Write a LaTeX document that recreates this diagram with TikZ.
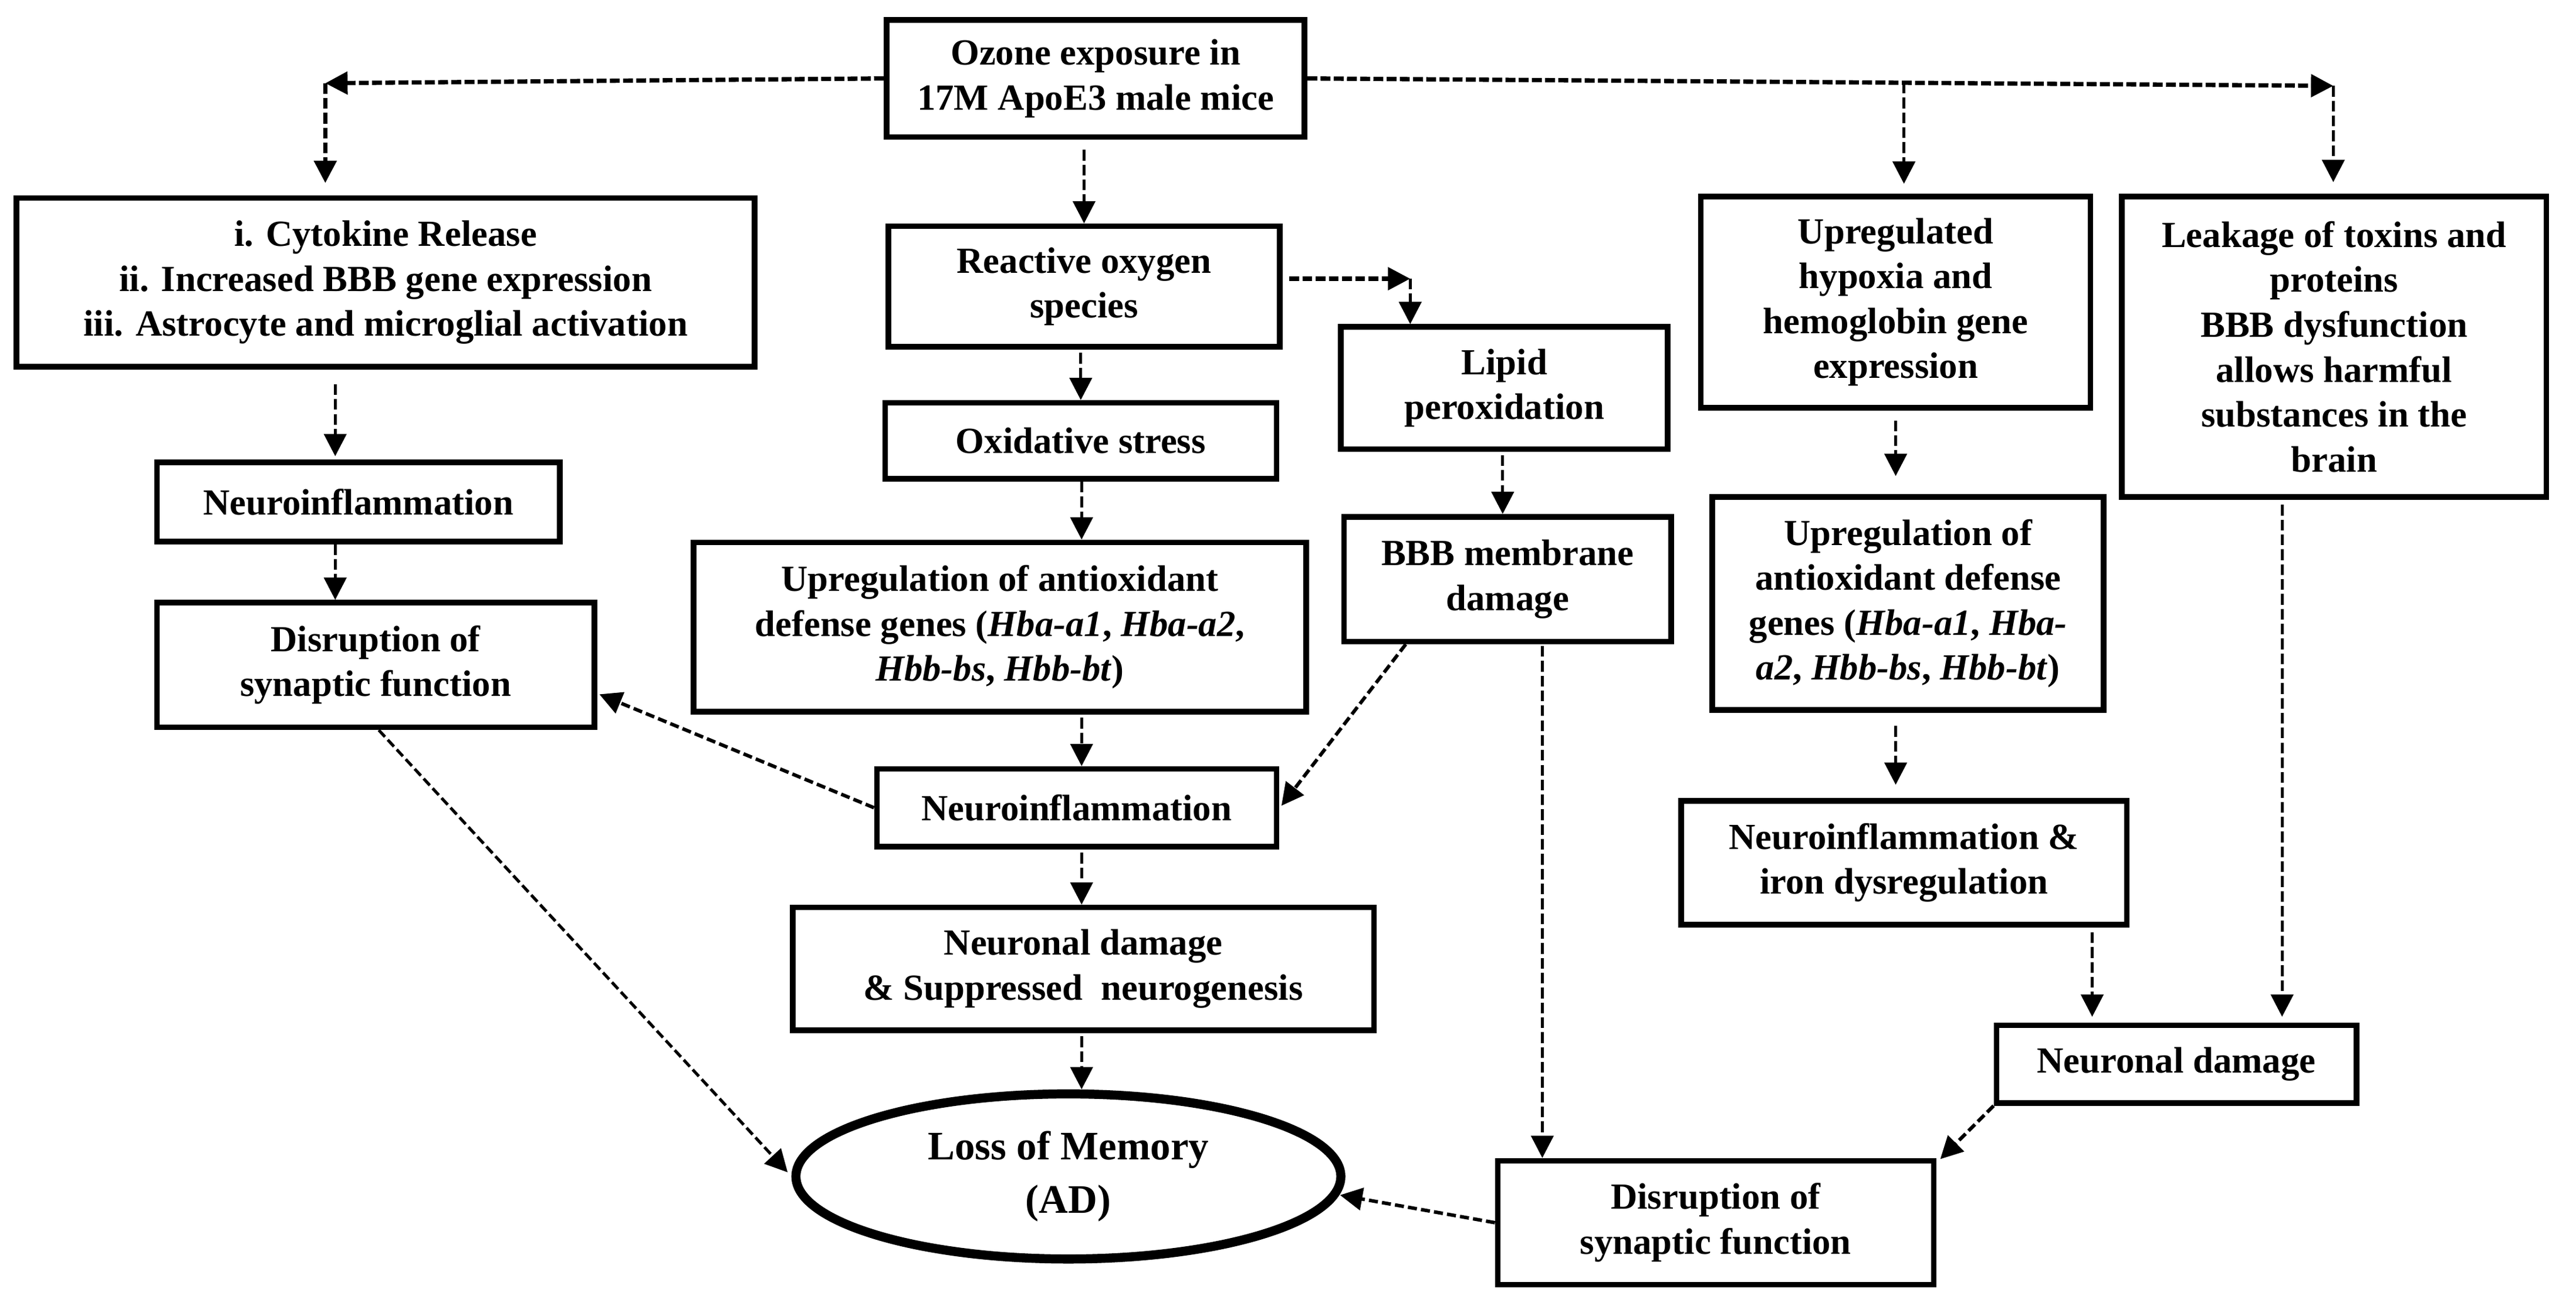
\documentclass[tikz,border=0pt]{standalone}
\usepackage{fontspec}
\setmainfont{Liberation Serif}
\usetikzlibrary{arrows.meta,shapes.geometric}
\newcommand{\boxfont}{\fontsize{22.3pt}{27.2pt}\selectfont\bfseries}
\newcommand{\ellfont}{\fontsize{24.5pt}{32pt}\selectfont\bfseries}
\begin{document}
\begin{tikzpicture}[x=1pt,y=-1pt,
  box/.style={draw, line width=3.4pt, rectangle, inner sep=0pt, align=center, font=\boxfont},
  tipA/.style={-{Triangle[length=13.5pt,width=13.5pt]}},
  vl/.style={tipA, line width=1.8pt, dash pattern=on 6.5pt off 2.5pt},
  hl/.style={tipA, line width=2.6pt, dash pattern=on 6pt off 2pt},
  dl/.style={tipA, line width=2.1pt, dash pattern=on 5.5pt off 2.5pt}]
\useasboundingbox (0,0) rectangle (1560,792.5);

% boxes
\node[box, minimum width=253pt, minimum height=71pt] (oz) at (663.5,47.5) {Ozone exposure in\\17M ApoE3 male mice};
\node[box, minimum width=447pt, minimum height=102pt] (cyt) at (233.5,171) {i. Cytokine Release\\ii. Increased BBB gene expression\\iii. Astrocyte and microglial activation};
\node[box, minimum width=237pt, minimum height=73pt] (ros) at (656.5,173.5) {Reactive oxygen\\species};
\node[box, minimum width=198pt, minimum height=74pt] (lip) at (911,235) {Lipid\\peroxidation};
\node[box, minimum width=236pt, minimum height=128pt] (hyp) at (1148,183) {Upregulated\\hypoxia and\\hemoglobin gene\\expression};
\node[box, minimum width=257pt, minimum height=182pt] (leak) at (1413.5,210) {Leakage of toxins and\\proteins\\BBB dysfunction\\allows harmful\\substances in the\\brain};
\node[box, minimum width=244pt, minimum height=48pt] (ni1) at (217,304) {Neuroinflammation};
\node[box, minimum width=237pt, minimum height=46pt] (ox) at (654.5,267) {Oxidative stress};
\node[box, minimum width=371pt, minimum height=102.5pt] (ua1) at (605.5,379.75) {Upregulation of antioxidant\\defense genes (\textit{Hba-a1}, \textit{Hba-a2},\\\textit{Hbb-bs}, \textit{Hbb-bt})};
\node[box, minimum width=198pt, minimum height=75.5pt] (bbb) at (913,350.75) {BBB membrane\\damage};
\node[box, minimum width=237pt, minimum height=129pt] (ua2) at (1155.5,365.5) {Upregulation of\\antioxidant defense\\genes (\textit{Hba-a1}, \textit{Hba-}\\\textit{a2}, \textit{Hbb-bs}, \textit{Hbb-bt})};
\node[box, minimum width=265pt, minimum height=75.5pt] (dis1) at (227.5,402.75) {Disruption of\\synaptic function};
\node[box, minimum width=242pt, minimum height=47pt] (ni2) at (652,489.2) {Neuroinflammation};
\node[box, minimum width=270pt, minimum height=75pt] (iron) at (1153,522.5) {Neuroinflammation \&\\iron dysregulation};
\node[box, minimum width=352pt, minimum height=74.4pt] (nd1) at (656,586.8) {Neuronal damage\\\& Suppressed\ \ neurogenesis};
\node[box, minimum width=218pt, minimum height=47pt] (nd2) at (1318,644.5) {Neuronal damage};
\node[box, minimum width=264pt, minimum height=75pt] (dis2) at (1039,740.5) {Disruption of\\synaptic function};
\node[draw, ellipse, line width=5.5pt, minimum width=330pt, minimum height=100pt, inner sep=0pt, align=center, font=\ellfont] (loss) at (647,712.5) {Loss of Memory\\(AD)};

% bend points and free ends
\coordinate (cTL) at (197,50.4);
\coordinate (cTR) at (1413,52);
\coordinate (cHy) at (1153,50.1);
\coordinate (cRL) at (854,168.8);
\coordinate (tD1) at (363,420.5);
\coordinate (tLL) at (477,710);
\coordinate (tN2) at (776,488);
\coordinate (tD2) at (1175,702);
\coordinate (tLR) at (811.5,723.8);

% top branches
\draw[hl] (oz.west) -- (cTL);
\draw[hl] (oz.east) -- (cTR);
\draw[vl, line width=2.4pt, shorten >=7.5pt] (cTL) -- (cTL |- cyt.north);
\draw[vl, shorten >=6pt] (cHy) -- (cHy |- hyp.north);
\draw[vl, shorten >=7pt] (cTR) -- (cTR |- leak.north);

% central column
\draw[vl, shorten <=6pt] (656.5,0 |- oz.south) -- (656.5,0 |- ros.north);
\draw[hl, shorten <=4pt] (ros.east |- cRL) -- (cRL);
\draw[vl] (cRL) -- (cRL |- lip.north);
\draw[vl, shorten <=2pt] (654.5,0 |- ros.south) -- (654.5,0 |- ox.north);
\draw[vl] (655,0 |- ox.south) -- (655,0 |- ua1.north);
\draw[vl, shorten <=2pt] (655,0 |- ua1.south) -- (655,0 |- ni2.north);
\draw[vl, shorten <=2pt] (655,0 |- ni2.south) -- (655,0 |- nd1.north);
\draw[vl, shorten <=2pt] (655,0 |- nd1.south) -- (655,0 |- loss.north);

% left column
\draw[vl, shorten <=9pt, shorten >=2pt] (203,0 |- cyt.south) -- (203,0 |- ni1.north);
\draw[vl] (203,0 |- ni1.south) -- (203,0 |- dis1.north);
\draw[dl] (ni2.west) -- (tD1);
\draw[dl, line width=1.8pt] (229.4,0 |- dis1.south) -- (tLL);

% lipid / BBB
\draw[vl, shorten <=2pt] (910,0 |- lip.south) -- (910,0 |- bbb.north);
\draw[dl] (851.3,0 |- bbb.south) -- (tN2);
\draw[vl, shorten <=1pt] (934,0 |- bbb.south) -- (934,0 |- dis2.north);

% right columns
\draw[vl, shorten <=6pt, shorten >=11pt] (1148,0 |- hyp.south) -- (1148,0 |- ua2.north);
\draw[vl, shorten <=8pt, shorten >=8pt] (1148,0 |- ua2.south) -- (1148,0 |- iron.north);
\draw[vl, shorten <=3pt, shorten >=3.5pt] (1267,0 |- iron.south) -- (1267,0 |- nd2.north);
\draw[vl, shorten <=3pt, shorten >=3.5pt] (1382,0 |- leak.south) -- (1382,0 |- nd2.north);
\draw[dl] (nd2.south west) -- (tD2);
\draw[dl] (dis2.west) -- (tLR);
\end{tikzpicture}
\end{document}
